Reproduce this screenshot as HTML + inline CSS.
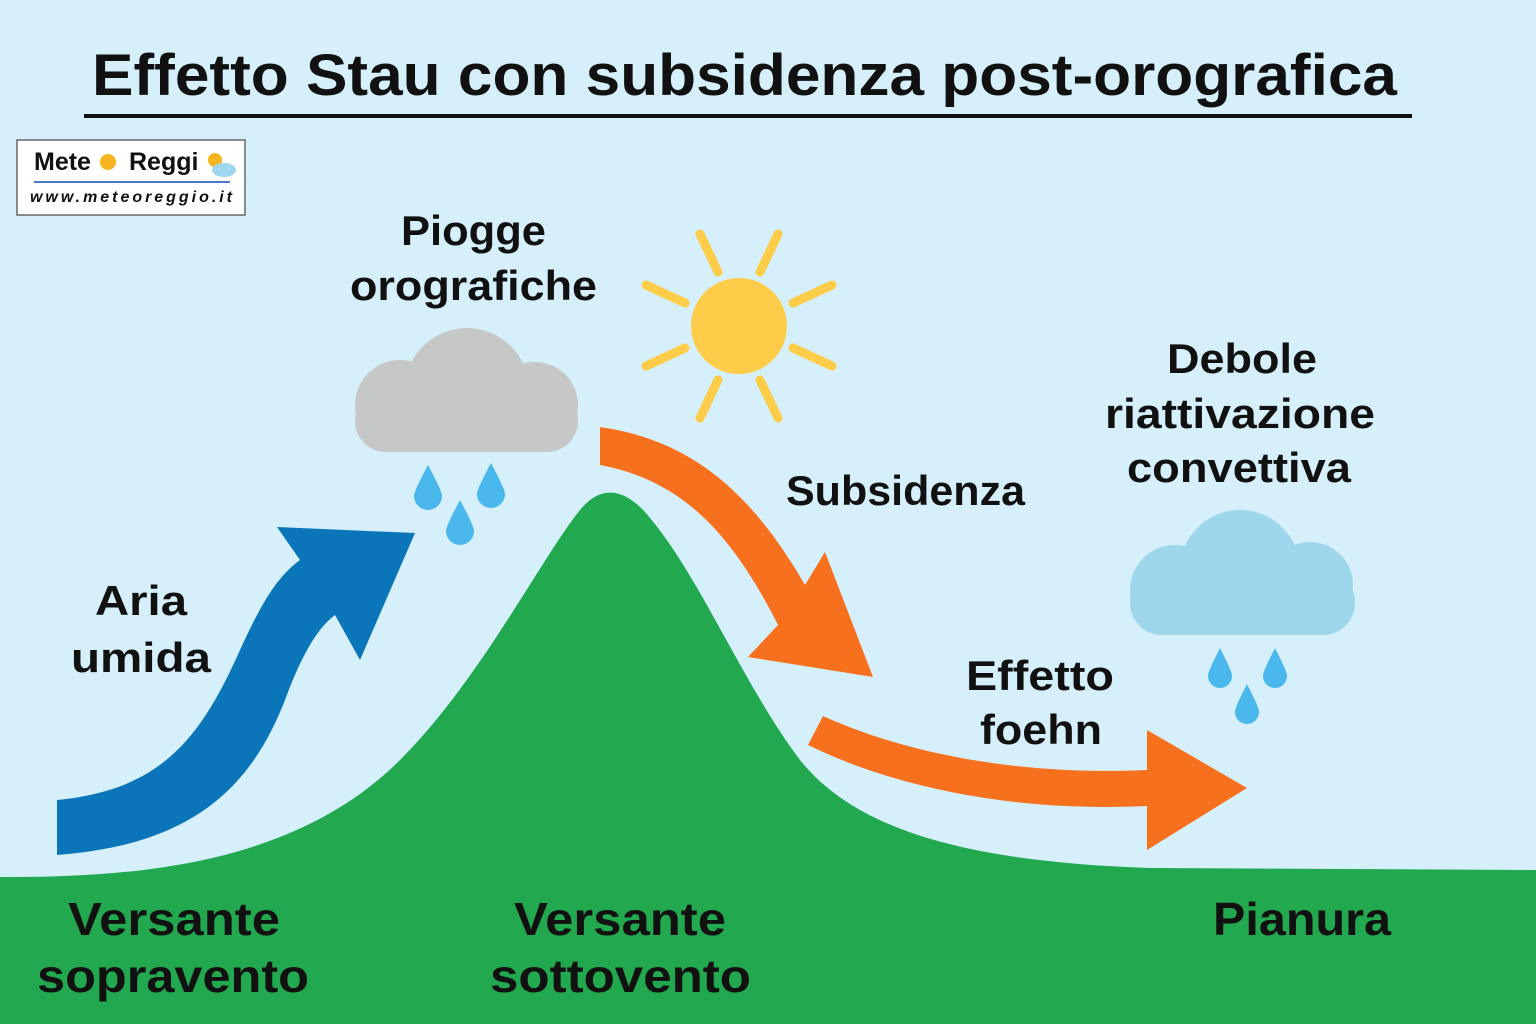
<!DOCTYPE html>
<html><head><meta charset="utf-8"><style>
html,body{margin:0;padding:0;width:1536px;height:1024px;overflow:hidden;background:#d5effb}
svg{display:block}
text{font-family:"Liberation Sans","DejaVu Sans",sans-serif;font-weight:bold;fill:#111}
</style></head><body>
<svg width="1536" height="1024" viewBox="0 0 1536 1024" xmlns="http://www.w3.org/2000/svg">
<rect width="1536" height="1024" fill="#d5effb"/>
<path d="M0,877 C150,878 300,860 400,760 C480,680 540,560 580,510 C598,488 620,485 645,512 C700,575 740,680 800,760 C860,835 980,862 1150,868 L1536,870 L1536,1024 L0,1024 Z" fill="#22a84f"/>
<text x="92" y="95" font-size="58" textLength="1305" lengthAdjust="spacingAndGlyphs">Effetto Stau con subsidenza post-orografica</text>
<rect x="84" y="114" width="1328" height="4" fill="#111"/>
<rect x="17" y="140" width="228" height="75" fill="#fff" stroke="#666" stroke-width="1.5"/>
<text x="34" y="170" font-size="25" fill="#222" font-weight="900">Mete</text>
<circle cx="108" cy="162" r="8" fill="#f5b520"/>
<text x="129" y="170" font-size="25" fill="#222" font-weight="900">Reggi</text>
<circle cx="215" cy="160" r="7" fill="#f5b520"/>
<ellipse cx="224" cy="170" rx="12" ry="7" fill="#9fd6f0"/>
<rect x="34" y="181" width="196" height="2" fill="#4a78c8"/>
<text x="30" y="202" font-size="16" font-weight="normal" font-style="italic" textLength="202" lengthAdjust="spacing" fill="#222">www.meteoreggio.it</text>
<circle cx="739" cy="326" r="48" fill="#fdcd4a"/>
<g stroke="#fdcd4a" stroke-width="9" stroke-linecap="round">
<line x1="700" y1="234" x2="718" y2="272"/><line x1="778" y1="234" x2="760" y2="272"/>
<line x1="646" y1="285" x2="685" y2="303"/><line x1="832" y1="285" x2="793" y2="303"/>
<line x1="646" y1="366" x2="685" y2="348"/><line x1="832" y1="366" x2="793" y2="348"/>
<line x1="700" y1="418" x2="718" y2="380"/><line x1="778" y1="418" x2="760" y2="380"/>
</g>
<g fill="#c6c7c7">
<rect x="355" y="390" width="223" height="62" rx="31"/>
<circle cx="467" cy="390" r="62"/>
<circle cx="400" cy="405" r="45"/>
<circle cx="535" cy="405" r="43"/>
</g>
<g fill="#4ab8ec">
<path d="M428,465 C436,480 442,492 442,496 A14,14 0 0 1 414,496 C414,492 420,480 428,465Z"/>
<path d="M491,463 C499,478 505,490 505,494 A14,14 0 0 1 477,494 C477,490 483,478 491,463Z"/>
<path d="M460,500 C468,515 474,527 474,531 A14,14 0 0 1 446,531 C446,527 452,515 460,500Z"/>
</g>
<g fill="#9ed6ec">
<rect x="1130" y="570" width="225" height="65" rx="32"/>
<circle cx="1240" cy="570" r="60"/>
<circle cx="1175" cy="590" r="45"/>
<circle cx="1310" cy="585" r="43"/>
</g>
<g fill="#4ab8ec">
<path d="M1220,648 C1227,662 1232,672 1232,676 A12,12 0 0 1 1208,676 C1208,672 1213,662 1220,648Z"/>
<path d="M1275,648 C1282,662 1287,672 1287,676 A12,12 0 0 1 1263,676 C1263,672 1268,662 1275,648Z"/>
<path d="M1247,684 C1254,698 1259,708 1259,712 A12,12 0 0 1 1235,712 C1235,708 1240,698 1247,684Z"/>
</g>
<path d="M57,800 C160,790 200,740 240,650 C265,595 280,575 300,560 L277,527 L415,533 L360,660 L335,615 C315,630 300,660 285,700 C250,790 190,845 57,855 Z" fill="#0a76b9"/>
<path d="M600,427 C690,440 750,490 805,585 L825,552 L873,677 L748,657 L778,625 C730,530 680,480 600,465 Z" fill="#f7701e"/>
<path d="M823,716 C920,760 1040,775 1147,770 L1147,730 L1247,788 L1147,850 L1147,806 C1020,812 900,790 808,745 Z" fill="#f7701e"/>
<g font-size="42">
<text x="401" y="245" textLength="145" lengthAdjust="spacingAndGlyphs">Piogge</text>
<text x="350" y="300" textLength="247" lengthAdjust="spacingAndGlyphs">orografiche</text>
<text x="786" y="505" textLength="239" lengthAdjust="spacingAndGlyphs">Subsidenza</text>
<text x="1167" y="373" textLength="150" lengthAdjust="spacingAndGlyphs">Debole</text>
<text x="1105" y="428" textLength="270" lengthAdjust="spacingAndGlyphs">riattivazione</text>
<text x="1127" y="482" textLength="224" lengthAdjust="spacingAndGlyphs">convettiva</text>
<text x="95" y="615" textLength="92" lengthAdjust="spacingAndGlyphs">Aria</text>
<text x="71" y="672" textLength="140" lengthAdjust="spacingAndGlyphs">umida</text>
<text x="966" y="690" textLength="148" lengthAdjust="spacingAndGlyphs">Effetto</text>
<text x="980" y="744" textLength="122" lengthAdjust="spacingAndGlyphs">foehn</text>
</g>
<g font-size="46">
<text x="68" y="935" textLength="212" lengthAdjust="spacingAndGlyphs">Versante</text>
<text x="37" y="992" textLength="272" lengthAdjust="spacingAndGlyphs">sopravento</text>
<text x="514" y="935" textLength="212" lengthAdjust="spacingAndGlyphs">Versante</text>
<text x="490" y="992" textLength="261" lengthAdjust="spacingAndGlyphs">sottovento</text>
<text x="1213" y="935" textLength="178" lengthAdjust="spacingAndGlyphs">Pianura</text>
</g>
</svg>
</body></html>
